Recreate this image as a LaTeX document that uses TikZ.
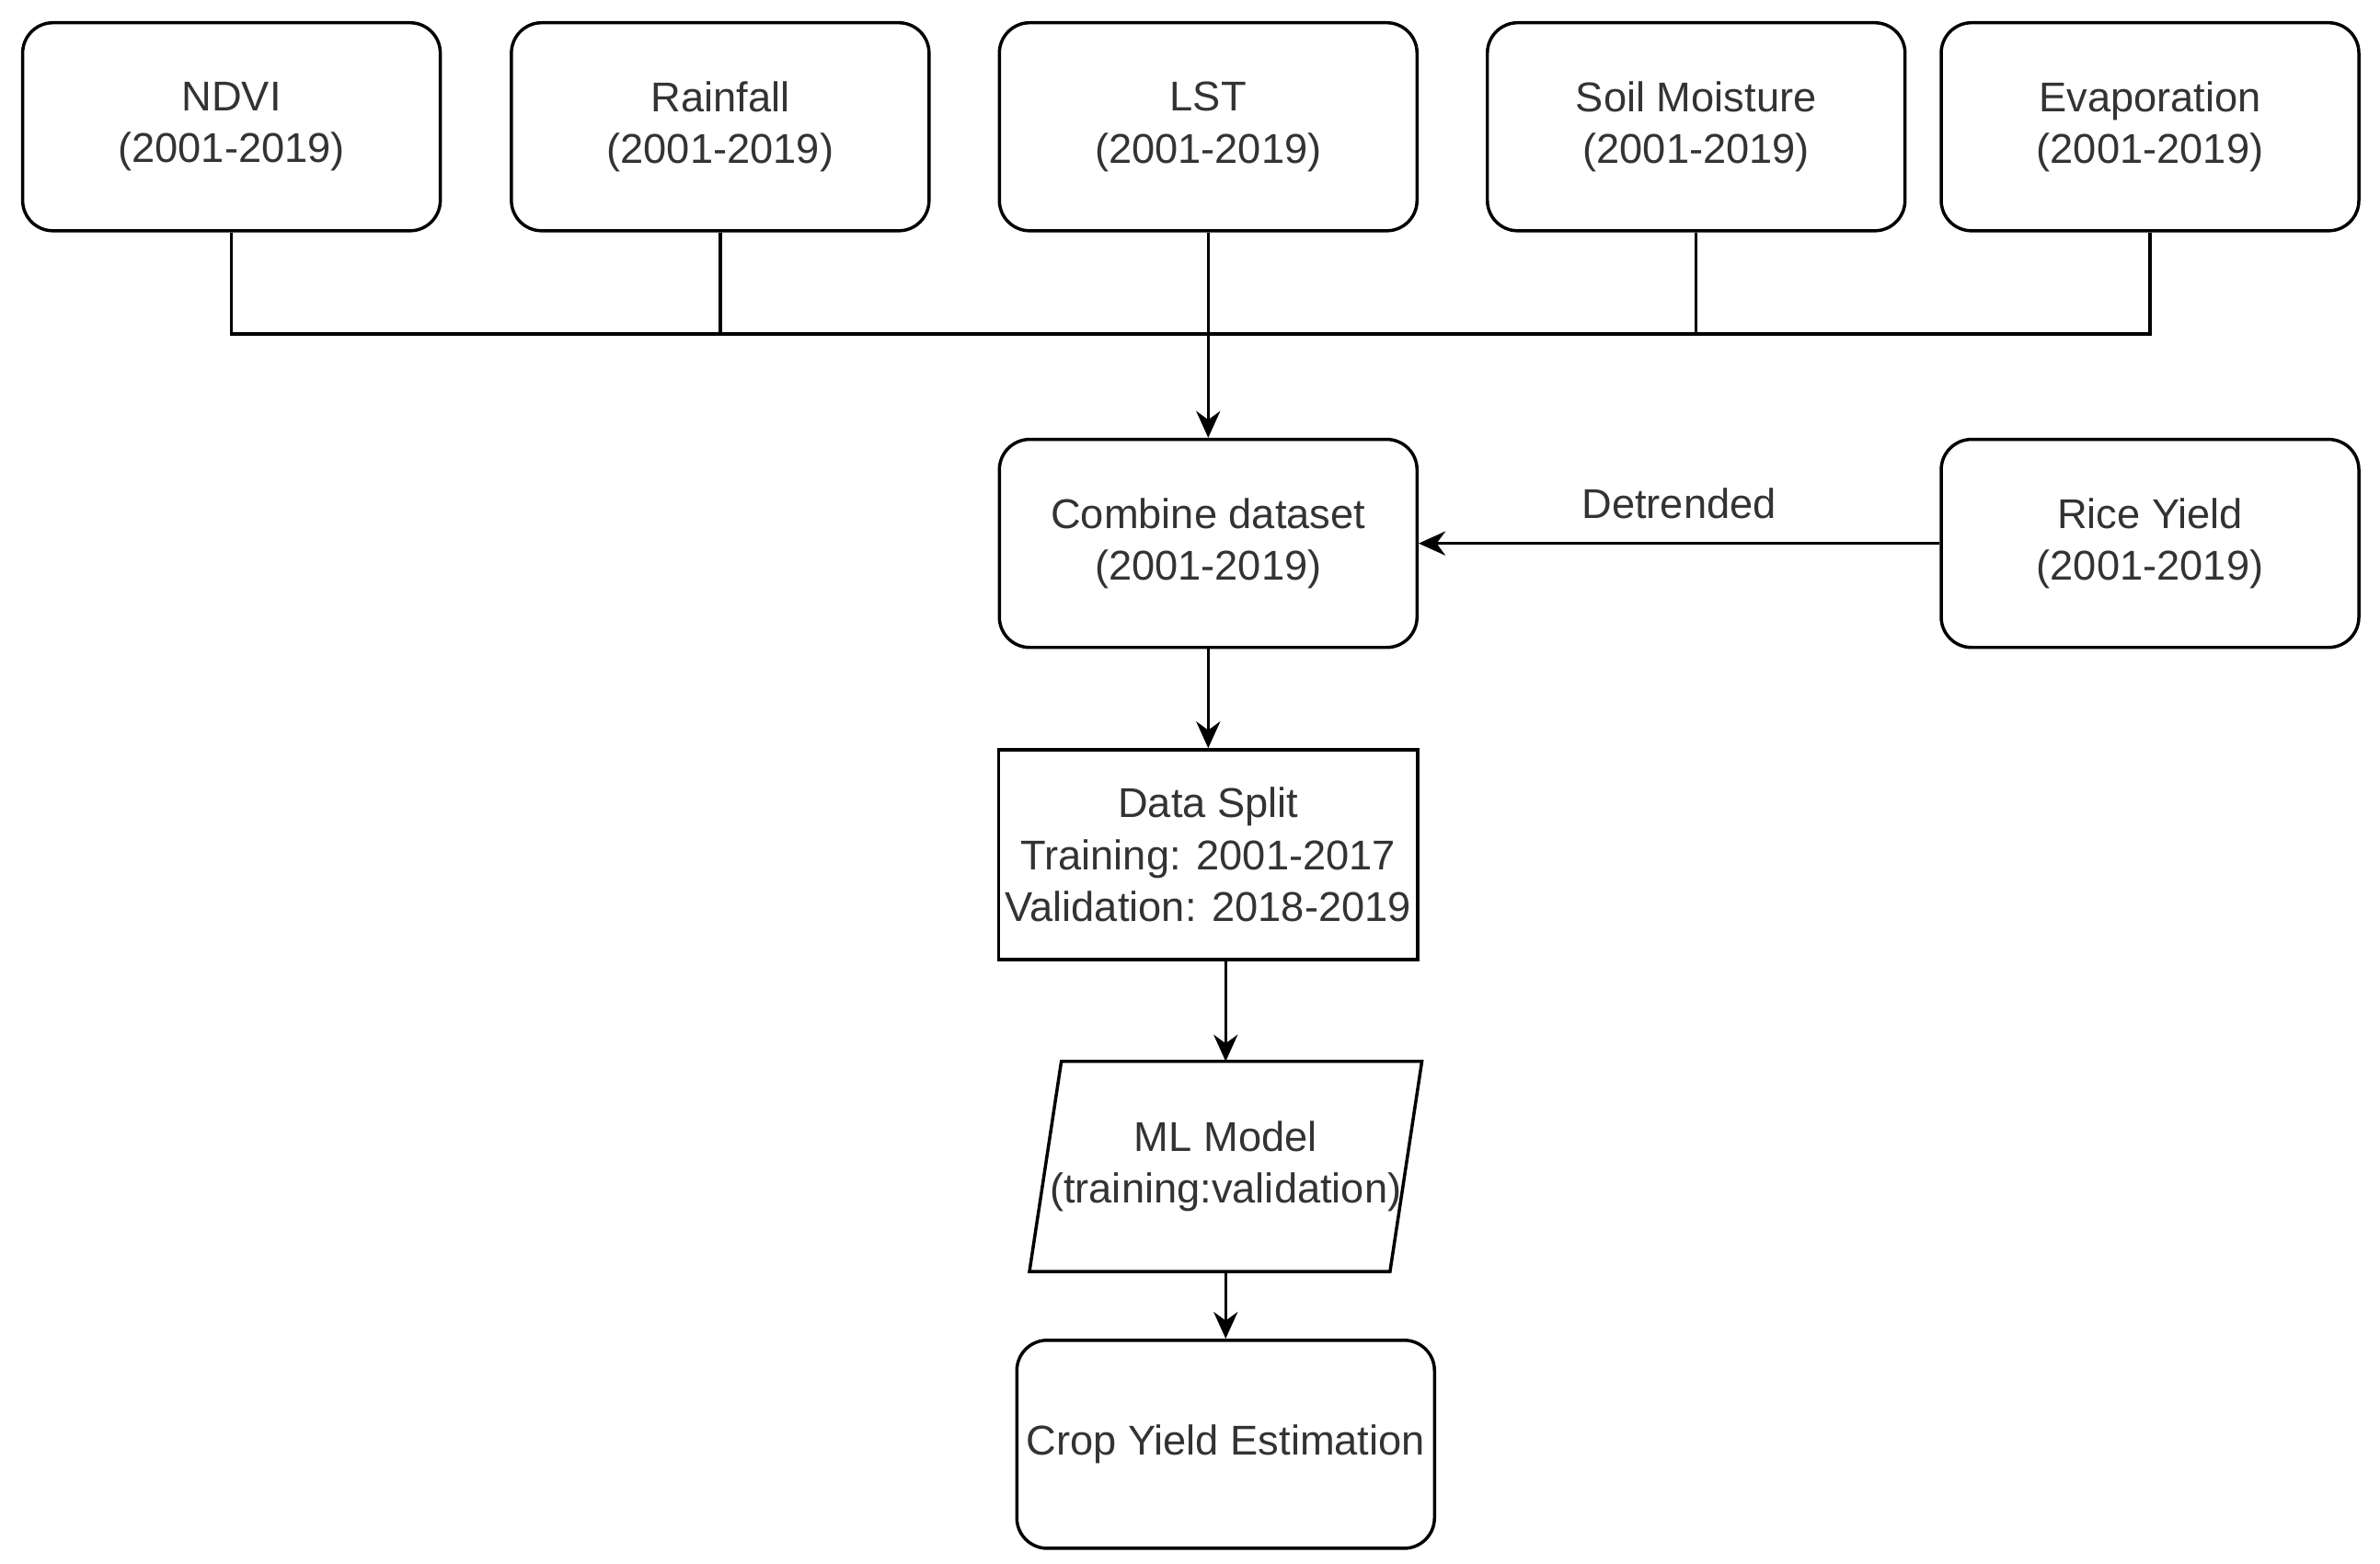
\documentclass[tikz,border=0pt]{standalone}
\usepackage{fontspec}
\setmainfont{Liberation Sans}
\usetikzlibrary{arrows.meta}
\begin{document}
\begin{tikzpicture}[x=0.01cm,y=-0.01cm,
  txt/.style={font=\fontsize{7.8}{9.7}\selectfont,text=black!80,align=center},
  rbox/.style={txt,draw,line width=0.6pt,rounded corners=0.2cm,minimum width=2.75cm,minimum height=1.37cm,inner sep=0pt},
  sbox/.style={txt,draw,line width=0.6pt,minimum width=2.76cm,minimum height=1.38cm,inner sep=0pt},
  ln/.style={line width=0.6pt},
  arr/.style={line width=0.6pt,-{Stealth[length=5pt,width=4.5pt]}}]
\useasboundingbox (0,0) rectangle (1568,1030);
\node[rbox] (ndvi) at (152.5,83.5) {NDVI\\(2001-2019)};
\node[rbox] (rain) at (474.5,83.5) {Rainfall\\(2001-2019)};
\node[rbox] (lst) at (796,83.5) {LST\\(2001-2019)};
\node[rbox] (soil) at (1117.5,83.5) {Soil Moisture\\(2001-2019)};
\node[rbox] (evap) at (1416.5,83.5) {Evaporation\\(2001-2019)};
\node[rbox] (comb) at (796,358) {Combine dataset\\(2001-2019)};
\node[rbox] (rice) at (1416.5,358) {Rice Yield\\(2001-2019)};
\node[sbox] (split) at (796,563) {Data Split\\Training: 2001-2017\\Validation: 2018-2019};
\node[txt,minimum width=2.57cm,minimum height=1.37cm,inner sep=0pt] (ml) at (807.5,768.5) {ML Model\\(training:validation)};
\draw[ln] ([xshift=0.21cm]ml.north west) -- (ml.north east) -- ([xshift=-0.21cm]ml.south east) -- (ml.south west) -- cycle;
\node[rbox] (crop) at (807.5,951.5) {Crop Yield Estimation};
\coordinate (bl) at (152.5,220);
\coordinate (br) at (1416.5,220);
\draw[ln] (ndvi.south) -- (bl) -- (br) -- (evap.south);
\draw[ln] (rain.south) -- (rain.south |- bl);
\draw[ln] (soil.south) -- (soil.south |- bl);
\draw[arr] (lst.south) -- (comb.north);
\draw[arr] (rice.west) -- node[txt,above=1pt] {Detrended} (comb.east);
\draw[arr] (comb.south) -- (split.north);
\draw[arr] (split.south -| ml.north) -- (ml.north);
\draw[arr] (ml.south) -- (crop.north);
\end{tikzpicture}
\end{document}
